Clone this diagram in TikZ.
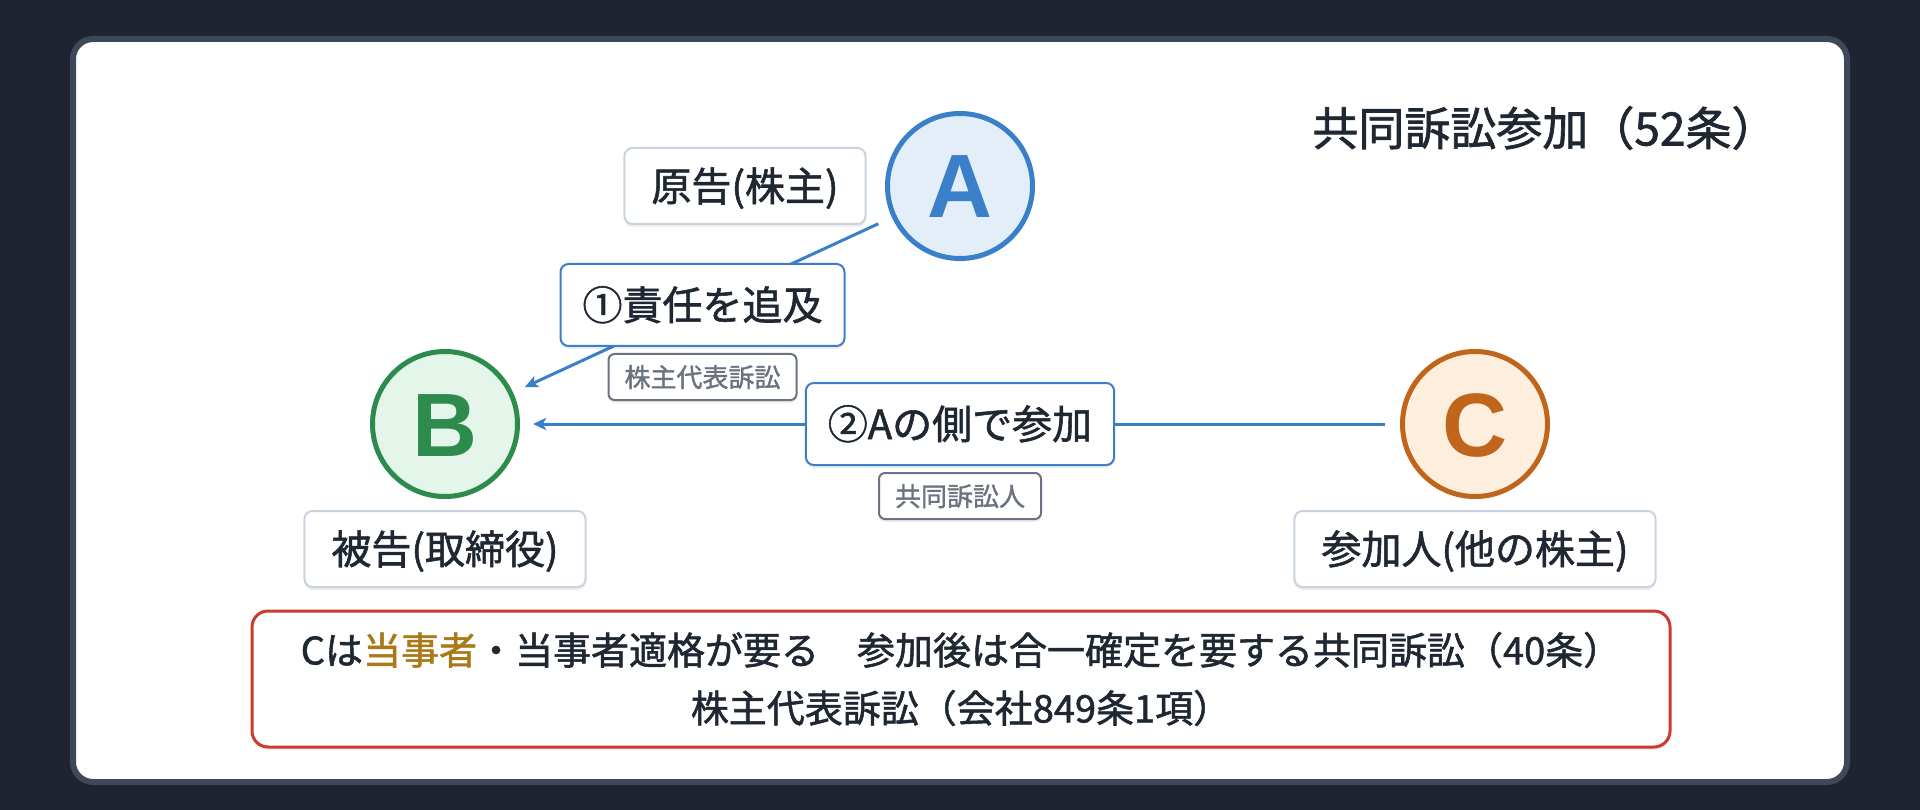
\documentclass[tikz,border=0pt]{standalone}
\usepackage{fontspec}
\setmainfont{Noto Sans CJK JP}
\newfontfamily\medfont{Noto Sans CJK JP}[FakeBold=1.4]
\newfontfamily\letterfont{Liberation Sans}
\usetikzlibrary{arrows.meta,calc,shadows}
\definecolor{bgdark}{HTML}{1E2530}
\definecolor{panelborder}{HTML}{3E4858}
\definecolor{textdark}{HTML}{1F2733}
\definecolor{bluec}{HTML}{3A80C9}
\definecolor{bluefill}{HTML}{E4EEF9}
\definecolor{greenc}{HTML}{2E8B4E}
\definecolor{greenfill}{HTML}{E4F5E9}
\definecolor{orangec}{HTML}{C0651C}
\definecolor{orangefill}{HTML}{FDEEDD}
\definecolor{lblborder}{HTML}{C9D3DF}
\definecolor{greyc}{HTML}{6B7280}
\definecolor{redc}{HTML}{CC3B2B}
\definecolor{goldc}{HTML}{A97A18}
\begin{document}
\begin{tikzpicture}[x=1pt,y=-1pt,
  softshadow/.style={drop shadow={shadow xshift=0pt, shadow yshift=-3pt, opacity=0.07, fill=black}},
  lbl/.style={softshadow, draw=lblborder, line width=2pt, fill=white, rounded corners=8pt,
    inner xsep=27pt, inner ysep=0pt, minimum height=76pt,
    font=\medfont\fontsize{40}{48}\selectfont, text=textdark,
    text height=35pt, text depth=5pt},
  edgelbl/.style={lbl, draw=bluec, inner xsep=22pt, minimum height=82pt},
  smalllbl/.style={softshadow, draw=greyc, line width=2pt, fill=white, rounded corners=6pt,
    inner xsep=16pt, inner ysep=0pt, minimum height=46pt,
    font=\medfont\fontsize{26}{30}\selectfont, text=greyc,
    text height=23pt, text depth=3pt},
  party/.style={softshadow, circle, line width=5pt, minimum size=145pt, inner sep=0pt,
    font=\letterfont\bfseries\fontsize{90}{96}\selectfont, text height=64pt, text depth=0pt},
  arr/.style={draw=bluec, line width=3pt, -{Stealth[length=13pt,width=12pt,inset=3pt]},
    shorten <=15pt, shorten >=13pt}
]
\useasboundingbox (0,0) rectangle (1920,810);
\fill[bgdark] (0,0) rectangle (1920,810);
\draw[panelborder, line width=6pt, fill=white, rounded corners=20pt] (73,39) rectangle (1847,782);

\node[anchor=east, font=\medfont\fontsize{46}{52}\selectfont, text=textdark] (title) at (1781,128) {共同訴訟参加（52条）};

\node[party, draw=bluec, fill=bluefill, text=bluec] (A) at (960,186) {A};
\node[party, draw=greenc, fill=greenfill, text=greenc] (B) at (445,424) {B};
\node[party, draw=orangec, fill=orangefill, text=orangec] (C) at (1475,424) {C};

\draw[arr] (A) -- (B);
\draw[arr] (C) -- (B);

\node[lbl] (la) at (745,186) {原告(株主)};
\node[lbl] (lb) at (445,549) {被告(取締役)};
\node[lbl] (lc) at (1475,549) {参加人(他の株主)};

\node[edgelbl] (e1) at ($(A)!0.5!(B)$) {①責任を追及};
\node[smalllbl] (s1) at ($(e1)+(0,72)$) {株主代表訴訟};
\node[edgelbl] (e2) at ($(C)!0.5!(B)$) {②Aの側で参加};
\node[smalllbl] (s2) at ($(e2)+(0,72)$) {共同訴訟人};

\node[softshadow, draw=redc, line width=3pt, fill=white, rounded corners=16pt,
  minimum width=1418pt, minimum height=136pt, inner sep=0pt] (note) at (961,679) {};
\node[font=\medfont\fontsize{38}{58}\selectfont, text=textdark, align=center] (notetext) at (note.center)
  {Cは{\color{goldc}当事者}・当事者適格が要る　参加後は合一確定を要する共同訴訟（40条）\\株主代表訴訟（会社849条1項）};
\end{tikzpicture}
\end{document}
